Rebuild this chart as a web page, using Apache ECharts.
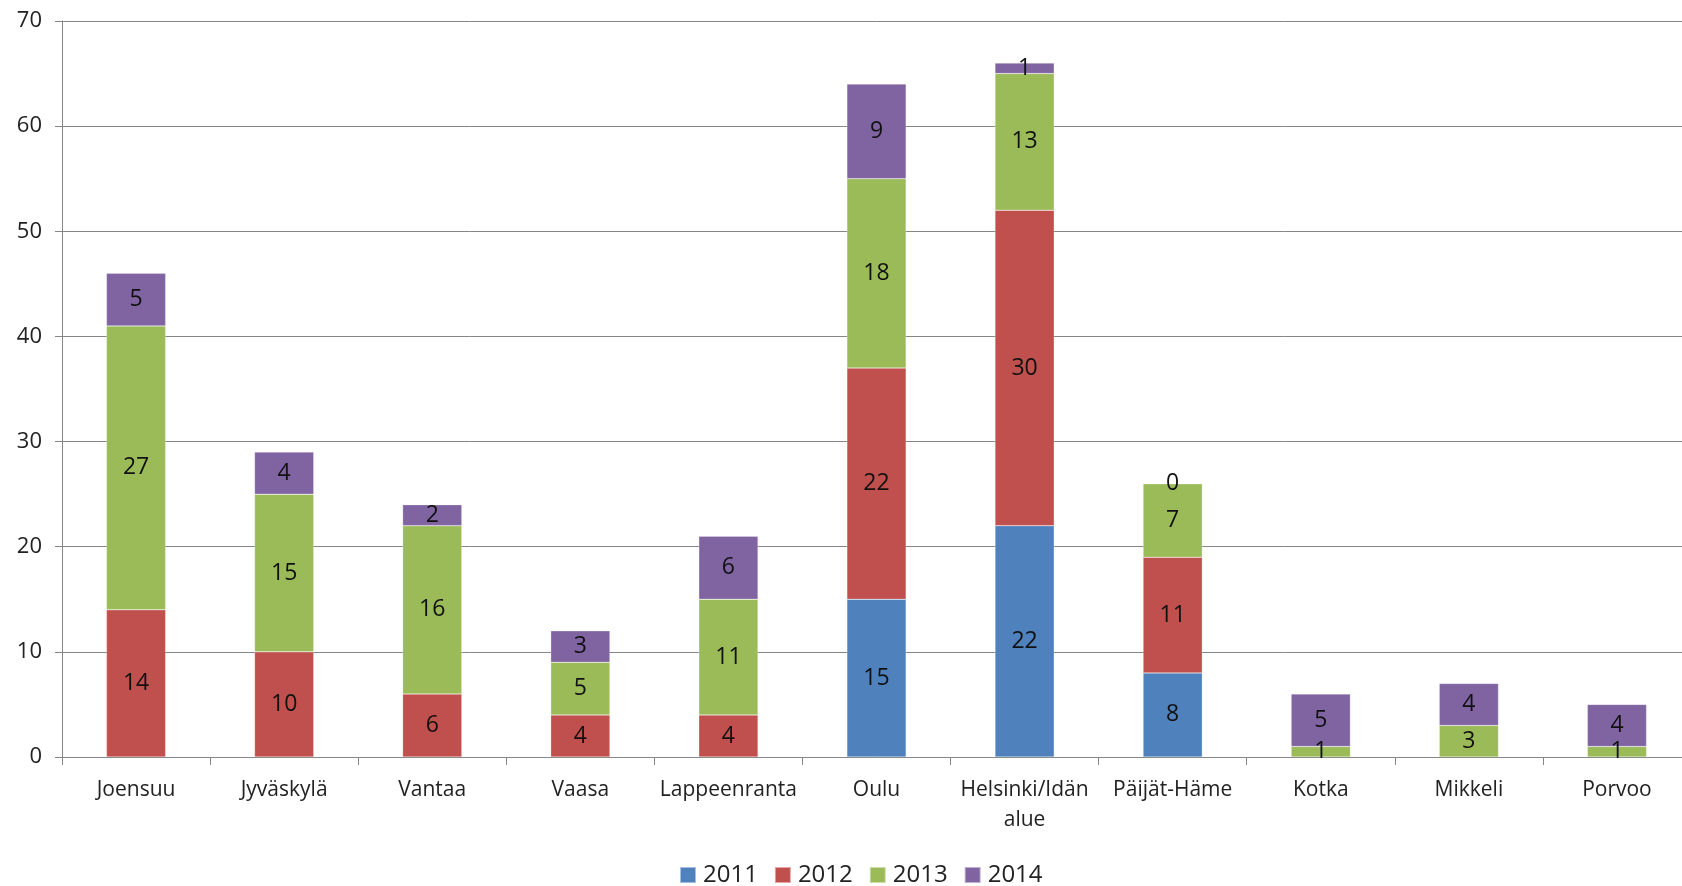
<!DOCTYPE html>
<html>
<head>
<meta charset="utf-8">
<script src="https://cdn.jsdelivr.net/npm/echarts@6/dist/echarts.min.js"></script>
<style>
  html, body { margin: 0; padding: 0; background: #fff; overflow: hidden; }
  #chart { width: 1700px; height: 886px; }
</style>
</head>
<body>
<div id="chart"></div>
<script>
var categories = ['Joensuu', 'Jyväskylä', 'Vantaa', 'Vaasa', 'Lappeenranta', 'Oulu',
  'Helsinki/Idän\nalue', 'Päijät-Häme', 'Kotka', 'Mikkeli', 'Porvoo'];
var years = ['2011', '2012', '2013', '2014'];
var data2011 = [null, null, null, null, null, 15, 22, 8, null, null, null];
var data2012 = [14, 10, 6, 4, 4, 22, 30, 11, null, null, null];
var data2013 = [27, 15, 16, 5, 11, 18, 13, 7, 1, 3, 1];
var data2014 = [5, 4, 2, 3, 6, 9, 1, 0, 5, 4, 4];
var yTicks = [0, 10, 20, 30, 40, 50, 60, 70];

var colors = ['#4f81bd', '#c0504d', '#9bbb59', '#8064a2'];
var font = 'Open Sans';

// canvas is a bit wider than the window: the original plot runs off the right edge
var myChart = echarts.init(document.getElementById('chart'));

function makeSeries(name, values, idx) {
  return {
    name: name,
    type: 'bar',
    stack: 'total',
    barWidth: '40%',
    color: colors[idx],
    data: values,
    itemStyle: { borderColor: 'rgba(255,255,255,0.5)', borderWidth: 0.5 },
    label: {
      show: true,
      position: 'inside',
      color: '#111',
      fontFamily: font,
      fontSize: 23
    }
  };
}

myChart.setOption({
  animation: false,
  grid: { left: 62, right: 9, top: 21, bottom: 129 },
  legend: {
    data: years,
    bottom: -6,
    left: 674,
    itemWidth: 16,
    itemHeight: 16,
    itemGap: 16,
    icon: 'rect',
    textStyle: { fontFamily: font, fontSize: 24, color: '#222', padding: [0, 0, 0, 2] }
  },
  xAxis: {
    type: 'category',
    data: categories,
    axisLine: { lineStyle: { color: '#868686' } },
    axisTick: { show: true, length: 8, lineStyle: { color: '#868686' } },
    axisLabel: { fontFamily: font, fontSize: 21, color: '#222', margin: 18, lineHeight: 30, interval: 0 }
  },
  yAxis: {
    type: 'value',
    min: yTicks[0],
    max: yTicks[yTicks.length - 1],
    interval: 10,
    axisLine: { show: true, lineStyle: { color: '#868686' } },
    axisTick: { show: true, length: 7, lineStyle: { color: '#868686' } },
    axisLabel: { fontFamily: font, fontSize: 22, color: '#222', margin: 20 },
    splitLine: { lineStyle: { color: '#868686' } }
  },
  series: [
    makeSeries('2011', data2011, 0),
    makeSeries('2012', data2012, 1),
    makeSeries('2013', data2013, 2),
    makeSeries('2014', data2014, 3)
  ]
});
</script>
</body>
</html>
